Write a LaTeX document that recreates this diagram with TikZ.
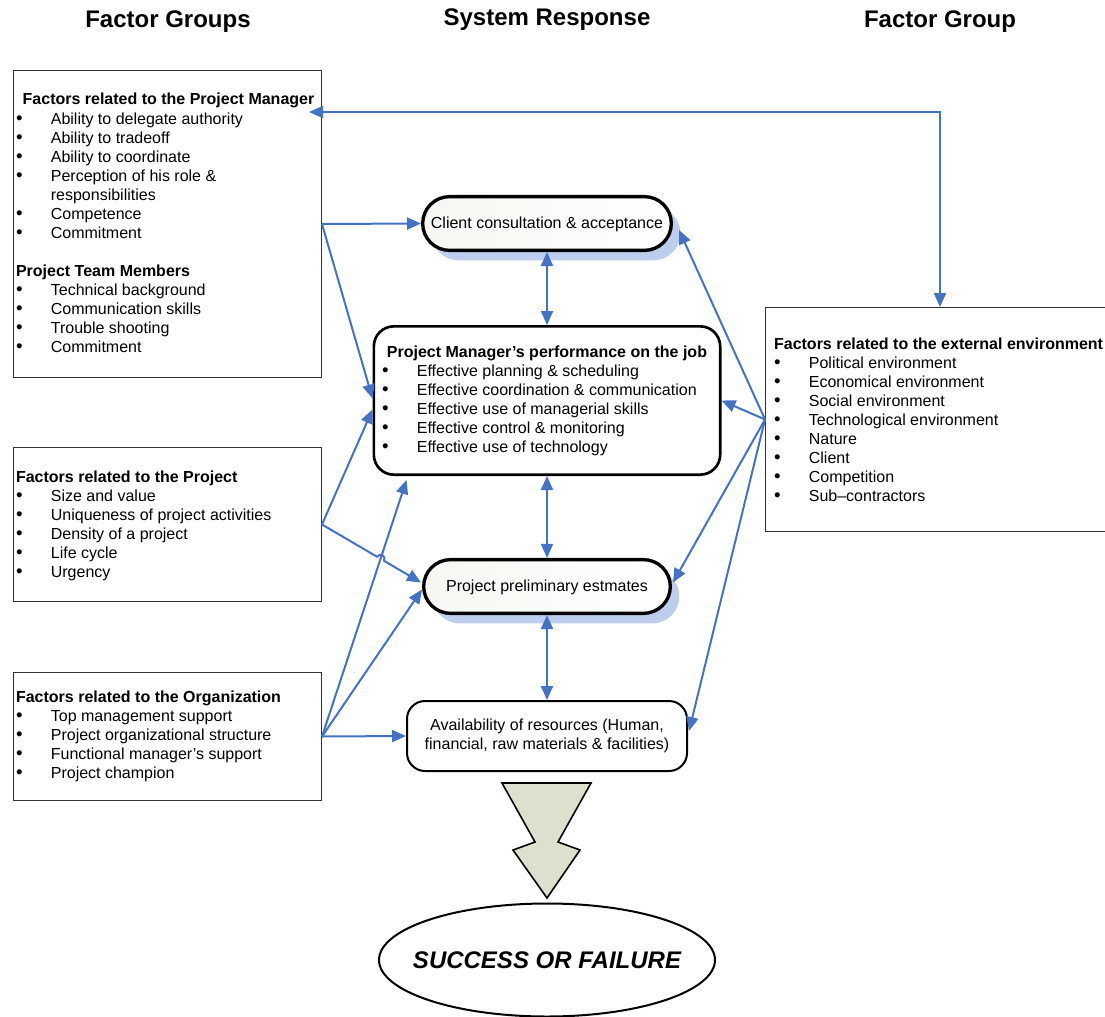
\documentclass[tikz,border=0pt]{standalone}
\usepackage{fontspec}
\setmainfont{Liberation Sans}
\usetikzlibrary{arrows.meta,shapes.misc,shapes.geometric,shadows,calc,intersections}

\definecolor{cblue}{RGB}{68,114,196}
\definecolor{shadowblue}{RGB}{188,205,238}
\definecolor{arrowfill}{RGB}{221,224,204}
\definecolor{pillfill}{RGB}{246,246,242}

% bulleted lists inside the boxes
\newcommand\bul{{\fontsize{14}{14}\selectfont\textbullet}}
\newcommand\itm[1]{\bul & #1\\}
\newcommand\grouphead[1]{\multicolumn{2}{@{}l@{}}{\textbf{#1}}\\}
\newcommand\bulletlist[1]{\begin{tabular}[t]{@{}p{26.1pt}@{}l@{}}#1\end{tabular}}

\begin{document}
\begin{tikzpicture}[x=0.75pt,y=-0.75pt,
  font=\fontsize{12}{14.25}\selectfont,
  heading/.style={inner sep=0, anchor=base, font=\fontsize{18}{21}\selectfont\bfseries},
  textblock/.style={inner sep=0},
  factorbox/.style={rectangle, draw=black!80, line width=0.75pt, inner sep=0},
  pill/.style={rounded rectangle, draw=black, line width=2.5pt, inner sep=0,
    text height=8.8pt, text depth=1pt,
    left color=pillfill, right color=white,
    general shadow={shading=axis, left color=shadowblue, right color=shadowblue,
      shadow xshift=6.75pt, shadow yshift=-7.5pt}},
  roundbox/.style={rectangle, draw=black, fill=white, inner sep=0},
  conn/.style={draw=cblue, line width=1.5pt, -{Triangle[length=10.5pt,width=9pt]}},
  twoway/.style={draw=cblue, line width=1.5pt,
    {Triangle[length=10.5pt,width=9pt]}-{Triangle[length=10.5pt,width=9pt]}}
]
\useasboundingbox (0,0) rectangle (1105,1016);

% column headings
\node[heading] (h1) at (168,28) {Factor Groups};
\node[heading] (h2) at (547,26) {System Response};
\node[heading] (h3) at (940,28) {Factor Group};

% factor group boxes
\node[factorbox, minimum width=231pt, minimum height=230.25pt] (pmbox) at (167.5,224) {};
\node[factorbox, minimum width=231pt, minimum height=115.5pt] (projbox) at (167.5,524.5) {};
\node[factorbox, minimum width=231pt, minimum height=96pt] (orgbox) at (167.5,736.5) {};
\node[factorbox, minimum width=261.75pt, minimum height=168pt] (extbox) at (940,419.5) {};

\node[textblock, anchor=base] (pmtitle) at (168.5,105) {\textbf{Factors related to the Project Manager}};
\node[textblock, anchor=base west] (pmlist) at (15.8,124.5) {\bulletlist{%
  \itm{Ability to delegate authority}
  \itm{Ability to tradeoff}
  \itm{Ability to coordinate}
  \itm{Perception of his role \&}
  & responsibilities\\
  \itm{Competence}
  \itm{Commitment}
  \\
  \grouphead{Project Team Members}
  \itm{Technical background}
  \itm{Communication skills}
  \itm{Trouble shooting}
  \itm{Commitment}}};

\node[textblock, anchor=base west] (projlist) at (15.8,482) {\bulletlist{%
  \grouphead{Factors related to the Project}
  \itm{Size and value}
  \itm{Uniqueness of project activities}
  \itm{Density of a project}
  \itm{Life cycle}
  \itm{Urgency}}};

\node[textblock, anchor=base west] (orglist) at (15.8,702) {\bulletlist{%
  \grouphead{Factors related to the Organization}
  \itm{Top management support}
  \itm{Project organizational structure}
  \itm{Functional manager’s support}
  \itm{Project champion}}};

\node[textblock, anchor=base west] (extlist) at (773.8,349.5) {\bulletlist{%
  \grouphead{Factors related to the external environment}
  \itm{Political environment}
  \itm{Economical environment}
  \itm{Social environment}
  \itm{Technological environment}
  \itm{Nature}
  \itm{Client}
  \itm{Competition}
  \itm{Sub–contractors}}};

% system response column
\node[pill, minimum width=186.5pt, minimum height=40.3pt] (client) at (547,223.5) {Client consultation \& acceptance};
\node[roundbox, line width=2pt, rounded corners=15pt, minimum width=259.75pt, minimum height=111.25pt] (perf) at (547,400.5) {};
\node[textblock, anchor=base] (perftitle) at (547,357) {\textbf{Project Manager’s performance on the job}};
\node[textblock, anchor=base west] (perflist) at (381.8,376) {\bulletlist{%
  \itm{Effective planning \& scheduling}
  \itm{Effective coordination \& communication}
  \itm{Effective use of managerial skills}
  \itm{Effective control \& monitoring}
  \itm{Effective use of technology}}};
\node[pill, minimum width=185pt, minimum height=40.3pt] (prelim) at (547,586.5) {Project preliminary estmates};
\node[roundbox, line width=1.5pt, rounded corners=13.5pt, minimum width=210pt, minimum height=52.5pt, align=center] (avail) at (547,736) {Availability of resources (Human,\\financial, raw materials \& facilities)};

% outcome
\draw[line width=1.2pt, fill=arrowfill, line join=miter]
  (502,783) -- (591,783) -- (558,842) -- (580,850) -- (547,898) -- (513,850) -- (535,842) -- cycle;
\node[ellipse, draw=black, line width=1.5pt, inner sep=0, minimum width=252pt, minimum height=84.75pt,
  font=\fontsize{18}{21}\selectfont\bfseries\itshape] (result) at (547,960) {\makebox[0pt]{SUCCESS OR FAILURE}};

% connectors from the left-hand factor groups
\coordinate (prA) at ($(prelim.west)+(-1,-4)$);
\coordinate (pfB) at ($(perf.south west)+(34,4)$);
\draw[conn] (pmbox.east) -- (client.west);
\draw[conn] (pmbox.east) -- ($(perf.west)+(0,-2)$);
\draw[conn] (projbox.east) -- ($(perf.west)+(0,9)$);
\draw[conn] (orgbox.east) -- (pfB);
\draw[conn] (orgbox.east) -- ($(prelim.west)+(0,3)$);
\draw[conn] (orgbox.east) -- (avail.west);

% project -> estimates, hopping over the organization line
\path[name path=pa] (projbox.east) -- (prA);
\path[name path=pb] (orgbox.east) -- (pfB);
\path[name intersections={of=pa and pb, by=cx}];
\coordinate (hopa) at ($(cx)!3pt!(projbox.east)$);
\coordinate (hopb) at ($(cx)!3pt!(prA)$);
\draw[conn] (projbox.east) -- (hopa)
  .. controls ($(hopa)!4pt!90:(cx)$) and ($(hopb)!4pt!-90:(cx)$) .. (hopb) -- (prA);

% two-way links down the system response column
\draw[twoway] (client.south) -- (perf.north);
\draw[twoway] (perf.south) -- (prelim.north);
\draw[twoway] (prelim.south) -- (avail.north);

% connectors from the external environment
\draw[conn] (extbox.west) -- ($(client.east)+(6,6.5)$);
\draw[conn] (extbox.west) -- (perf.east);
\draw[conn] (extbox.west) -- ($(prelim.east)+(1,-4)$);
\draw[conn] (extbox.west) -- ($(avail.east)+(1,-5)$);

% project manager <-> external environment
\coordinate (pmtip) at ($(pmbox.north east)+(-13,42)$);
\draw[twoway] (pmtip) -- (pmtip -| extbox.north) -- (extbox.north);
\end{tikzpicture}
\end{document}
